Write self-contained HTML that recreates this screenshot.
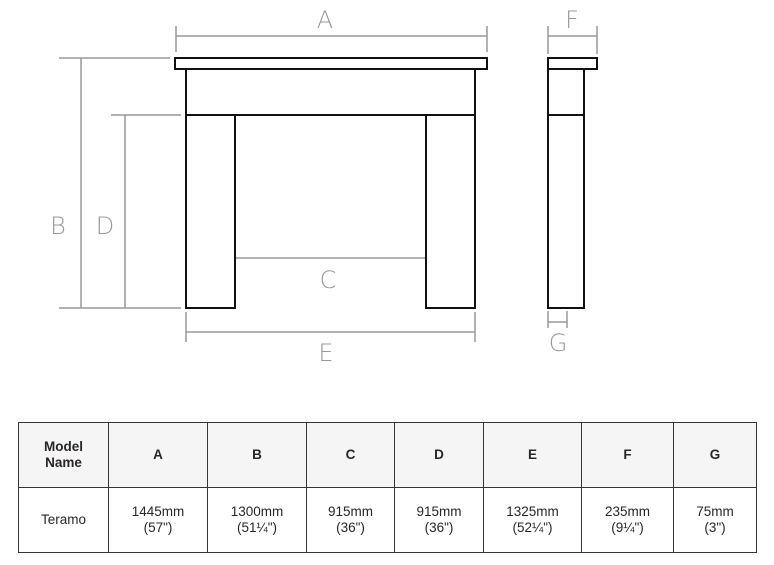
<!DOCTYPE html>
<html><head><style>
body{margin:0;background:#fff;width:774px;height:565px;position:relative;overflow:hidden;font-family:"Liberation Sans",sans-serif}
svg{position:absolute;left:0;top:0}
table{position:absolute;left:18px;top:422px;width:738px;table-layout:fixed;border-collapse:collapse;color:#2b2626;font-size:13.5px}
td{border:1.3px solid #3a3333;text-align:center;line-height:16px;padding:0}
tr.h td{background:#f5f5f5;font-weight:bold;height:64px}
tr.b td{height:64px}
</style></head><body>
<svg width="774" height="420" viewBox="0 0 774 420">
<g stroke="#999" stroke-width="1.5" fill="none">
<line x1="176" y1="36" x2="487" y2="36"/><line x1="176" y1="26" x2="176" y2="52"/><line x1="487" y1="26" x2="487" y2="52"/>
<line x1="59" y1="58" x2="170" y2="58"/><line x1="59" y1="308" x2="181" y2="308"/><line x1="81" y1="58" x2="81" y2="308"/>
<line x1="111" y1="115" x2="181" y2="115"/><line x1="125" y1="115" x2="125" y2="308"/>
<line x1="235" y1="258" x2="426" y2="258"/>
<line x1="186" y1="332" x2="475" y2="332"/><line x1="186" y1="312" x2="186" y2="342"/><line x1="475" y1="312" x2="475" y2="342"/>
<line x1="548" y1="36" x2="597" y2="36"/><line x1="548" y1="26" x2="548" y2="54"/><line x1="597" y1="26" x2="597" y2="54"/>
<line x1="548" y1="322" x2="567" y2="322"/><line x1="548" y1="311" x2="548" y2="328"/><line x1="567" y1="311" x2="567" y2="328"/>
</g>
<g stroke="#111" stroke-width="2" fill="none">
<rect x="175" y="58" width="312" height="11"/>
<path d="M186 69V308H235V115M426 115V308H475V69M186 115H475"/>
<rect x="548" y="58" width="49" height="11"/>
<rect x="548" y="69" width="36" height="239"/><line x1="548" y1="115" x2="584" y2="115"/>
</g>
<g fill="#999" font-family="'DejaVu Sans',sans-serif" font-size="24" text-anchor="middle" font-weight="200">
<text x="325" y="28">A</text><text x="58" y="234">B</text><text x="105" y="234">D</text>
<text x="328" y="288">C</text><text x="326" y="361">E</text><text x="572" y="28">F</text><text x="558" y="351">G</text>
</g>
</svg>
<table>
<colgroup><col style="width:90px"><col style="width:99px"><col style="width:99px"><col style="width:88px"><col style="width:89px"><col style="width:98px"><col style="width:92px"><col style="width:83px"></colgroup>
<tr class="h"><td>Model<br>Name</td><td>A</td><td>B</td><td>C</td><td>D</td><td>E</td><td>F</td><td>G</td></tr>
<tr class="b"><td>Teramo</td><td>1445mm<br>(57")</td><td>1300mm<br>(51¼")</td><td>915mm<br>(36")</td><td>915mm<br>(36")</td><td>1325mm<br>(52¼")</td><td>235mm<br>(9¼")</td><td>75mm<br>(3")</td></tr>
</table>
</body></html>
